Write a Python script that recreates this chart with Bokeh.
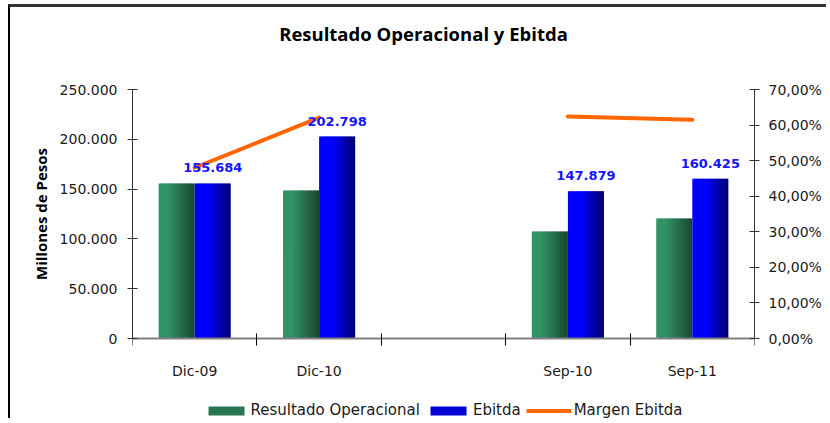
import numpy as np
from bokeh.plotting import figure
from bokeh.models import (ColumnDataSource, Range1d, LinearAxis, FixedTicker,
                          Legend, LegendItem, Label)
from bokeh.transform import dodge
from bokeh.core.properties import value
from bokeh.embed import file_html
from bokeh.resources import INLINE

# ---------------- data ----------------
categories = ["Dic-09", "Dic-10", "", "Sep-10", "Sep-11"]
resultado_operacional = [155600, 148500, np.nan, 107400, 120500]
ebitda = [155684, 202798, np.nan, 147879, 160425]
margen_ebitda = [0.480, 0.621, np.nan, 0.624, 0.615]

y_ticks = [0, 50000, 100000, 150000, 200000, 250000]
y_tick_labels = ["0", "50.000", "100.000", "150.000", "200.000", "250.000"]
pct_ticks = [0.0, 0.1, 0.2, 0.3, 0.4, 0.5, 0.6, 0.7]
pct_tick_labels = ["0,00%", "10,00%", "20,00%", "30,00%", "40,00%",
                   "50,00%", "60,00%", "70,00%"]
title_text = "Resultado Operacional y Ebitda"

# ---------------- derived ----------------
xpos = [i + 0.5 for i in range(len(categories))]
ebitda_labels = ["" if np.isnan(v) else f"{v:,.0f}".replace(",", ".") for v in ebitda]

src = ColumnDataSource(dict(x=xpos, ro=resultado_operacional, eb=ebitda,
                            mg=margen_ebitda, lab=ebitda_labels))

# ---------------- layout geometry (pixels) ----------------
W, H = 818, 414
FRAME_H = H - 1            # frame spans the whole height (min_border_bottom=1)
TOP_PAD = 82               # px from frame top to the 250.000 level
PLOT_H = 249               # px between 0 and 250.000
BOT_PAD = FRAME_H - TOP_PAD - PLOT_H
YMAX, PMAX = 250000, 0.70
y_lo = -YMAX * BOT_PAD / PLOT_H
y_hi = YMAX + YMAX * TOP_PAD / PLOT_H
p_lo = -PMAX * BOT_PAD / PLOT_H
p_hi = PMAX + PMAX * TOP_PAD / PLOT_H

TICK_FONT = "DejaVu Sans"
TXT = "#1a1a1a"

p = figure(width=W, height=H, output_backend="svg", toolbar_location=None,
           x_range=Range1d(0, 5), y_range=Range1d(y_lo, y_hi),
           min_border_left=122, min_border_right=74,
           min_border_top=0, min_border_bottom=1,
           background_fill_color="white", border_fill_color="white")
p.outline_line_color = None
p.xgrid.visible = False
p.ygrid.visible = False
p.styles = {"position": "relative", "top": "4px", "left": "8px",
            "border-top": "3px solid #333333", "border-left": "2px solid #000000"}

p.extra_y_ranges = {"pct": Range1d(p_lo, p_hi)}

# ---------------- gradient bars ----------------
bw = 0.29
N = 18

def grad_color(c0, c1, t, hold):
    if t <= hold:
        return "#%02x%02x%02x" % c0
    u = (t - hold) / (1 - hold)
    return "#%02x%02x%02x" % tuple(int(round(a + (b - a) * u)) for a, b in zip(c0, c1))

def gradient_bar(field, left, c0, c1, hold):
    s = bw / N
    rends = []
    for k in range(N):
        a = left + k * s
        b = min(left + (k + 1) * s + 0.6 * s, left + bw)
        col = grad_color(c0, c1, (k + 0.5) / N, hold)
        r = p.quad(left=dodge("x", a, range=None), right=dodge("x", b, range=None),
                   bottom=0, top=field, source=src,
                   fill_color=col, line_color=None)
        rends.append(r)
    return rends

green = gradient_bar("ro", -bw, (50, 147, 101), (25, 70, 48), 0.25)
blue = gradient_bar("eb", 0.0, (0, 0, 255), (0, 0, 110), 0.36)

# ---------------- line ----------------
ln = p.line(x="x", y="mg", y_range_name="pct", source=src,
            line_color="#FF6600", line_width=4, line_cap="round")

# ---------------- labels ----------------
p.text(x=dodge("x", bw / 2, range=None), y="eb", text="lab", source=src,
       text_align="center", text_baseline="bottom", y_offset=-11,
       text_font=value("DejaVu Sans"), text_font_style="bold",
       text_font_size="13px", text_color="#1414FF")

# ---------------- title ----------------
p.add_layout(Label(x=291, y=FRAME_H - 26, x_units="screen", y_units="screen",
                   text=title_text, text_align="center", text_baseline="middle",
                   text_font="Open Sans", text_font_style="bold",
                   text_font_size="18.5px", text_color="#000000"))

# ---------------- axes ----------------
xa = p.xaxis[0]
xa.fixed_location = 0
xa.ticker = FixedTicker(ticks=xpos, minor_ticks=[0, 1, 2, 3, 4, 5])
xa.major_label_overrides = {x: c for x, c in zip(xpos, categories)}
xa.major_tick_line_color = None
xa.major_tick_in = 0
xa.major_tick_out = 0
xa.minor_tick_in = 5
xa.minor_tick_out = 7
xa.minor_tick_line_color = "#000000"
xa.axis_line_color = "#808080"
xa.axis_line_width = 2
xa.major_label_standoff = 17
xa.major_label_text_font = TICK_FONT
xa.major_label_text_font_size = "14px"
xa.major_label_text_color = TXT

ya = p.yaxis[0]
ya.bounds = (0, YMAX)
ya.ticker = FixedTicker(ticks=y_ticks, minor_ticks=[])
ya.major_label_overrides = {t: l for t, l in zip(y_ticks, y_tick_labels)}
ya.major_tick_in = 5
ya.major_tick_out = 5
ya.minor_tick_line_color = None
ya.axis_line_color = "#333333"
ya.major_tick_line_color = "#333333"
ya.major_label_standoff = 10
ya.major_label_text_font = TICK_FONT
ya.major_label_text_font_size = "14px"
ya.major_label_text_color = TXT
ya.axis_label = "Millones de Pesos"
ya.axis_label_text_font = "Open Sans"
ya.axis_label_text_font_style = "bold"
ya.axis_label_text_font_size = "15px"
ya.axis_label_text_color = "#000000"
ya.axis_label_standoff = 6

ra = LinearAxis(y_range_name="pct", bounds=(0, PMAX),
                ticker=FixedTicker(ticks=pct_ticks, minor_ticks=[]))
ra.major_label_overrides = {t: l for t, l in zip(pct_ticks, pct_tick_labels)}
ra.major_tick_in = 5
ra.major_tick_out = 5
ra.minor_tick_line_color = None
ra.axis_line_color = "#333333"
ra.major_tick_line_color = "#333333"
ra.major_label_standoff = 9
ra.major_label_text_font = TICK_FONT
ra.major_label_text_font_size = "14px"
ra.major_label_text_color = TXT
p.add_layout(ra, "right")

# ---------------- legend ----------------
legend = Legend(items=[
    LegendItem(label="Resultado Operacional", renderers=[green[N // 2]]),
    LegendItem(label="Ebitda", renderers=[blue[N // 2]]),
    LegendItem(label="Margen Ebitda", renderers=[ln]),
], orientation="horizontal", location="bottom_center",
    glyph_width=45, glyph_height=11, label_standoff=2, spacing=6,
    padding=0, margin=1, border_line_color=None, background_fill_alpha=0,
    label_text_font=TICK_FONT, label_text_font_size="15px",
    label_text_color=TXT)
p.add_layout(legend, "center")

open("out.html", "w").write(file_html(p, INLINE))
